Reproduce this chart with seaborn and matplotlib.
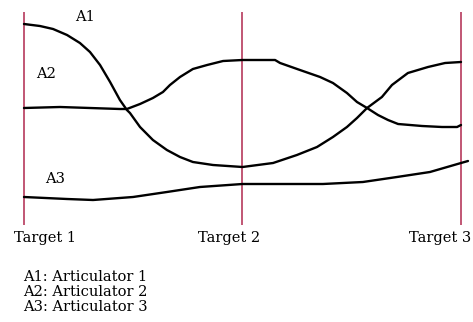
import matplotlib
matplotlib.use("Agg")
import matplotlib.pyplot as plt
import seaborn as sns
import pandas as pd

# time in units of target intervals (Target 1 = 0, Target 2 = 1, Target 3 = 2)
a1_t = [0.0, 0.073, 0.133, 0.197, 0.256, 0.302, 0.348, 0.394, 0.439, 0.471, 0.485,
        0.531, 0.590, 0.654, 0.714, 0.773, 0.865, 1.0, 1.140, 1.249, 1.341, 1.414,
        1.478, 1.524, 1.570, 1.638, 1.684, 1.757, 1.849, 1.927, 2.0]
a1_v = [201, 199, 196, 190, 182, 173, 160, 143, 125, 115, 112,
        98, 85, 75, 68, 63, 60, 58, 62, 70, 78, 88,
        98, 107, 117, 128, 140, 152, 158, 162, 163]

a2_t = [0.0, 0.165, 0.439, 0.471, 0.531, 0.590, 0.636, 0.668, 0.714, 0.773, 0.838,
        0.911, 1.0, 1.149, 1.172, 1.263, 1.355, 1.414, 1.478, 1.524, 1.570, 1.620,
        1.666, 1.712, 1.822, 1.913, 1.982, 2.0]
a2_v = [117, 118, 116, 116, 121, 127, 133, 140, 148, 156, 160,
        164, 165, 165, 162, 155, 148, 142, 132, 123, 117, 110,
        105, 101, 99, 98, 98, 100]

a3_t = [0.0, 0.197, 0.316, 0.499, 0.654, 0.805, 1.0, 1.368, 1.551, 1.707, 1.858, 2.0, 2.032]
a3_v = [28, 26, 25, 28, 33, 38, 41, 41, 43, 48, 53, 62, 64]

series_names = ["A1", "A2", "A3"]
targets = [0, 1, 2]
target_labels = ["Target 1", "Target 2", "Target 3"]
legend_lines = ["A1: Articulator 1", "A2: Articulator 2", "A3: Articulator 3"]

df = pd.concat([
    pd.DataFrame({"t": a1_t, "v": a1_v, "s": "A1"}),
    pd.DataFrame({"t": a2_t, "v": a2_v, "s": "A2"}),
    pd.DataFrame({"t": a3_t, "v": a3_v, "s": "A3"}),
], ignore_index=True)

sns.set_style("white")
plt.rcParams["font.family"] = ["DejaVu Serif"]

fig = plt.figure(figsize=(4.73, 3.22), dpi=100)
ax = fig.add_axes([0, 0, 1, 1])

ax.vlines(targets, 0, 213, color="#b63a5c", linewidth=1.2, zorder=1)

sns.lineplot(data=df, x="t", y="v", hue="s", units="s", estimator=None, sort=False,
             palette={"A1": "black", "A2": "black", "A3": "black"},
             linewidth=1.7, legend=False, ax=ax, zorder=2)
for ln in ax.lines:
    ln.set_solid_joinstyle("round")
    ln.set_solid_capstyle("round")

ax.set_xlim(-0.1098, 2.0549)
ax.set_ylim(-97, 225)
ax.axis("off")

fs = 10.5
# series labels
ax.text(0.279, 208, "A1", fontsize=fs, ha="center", va="center", color="black")
ax.text(0.101, 151, "A2", fontsize=fs, ha="center", va="center", color="black")
ax.text(0.142, 46, "A3", fontsize=fs, ha="center", va="center", color="black")

# target labels
for x, lab in zip([-0.046, 0.796, 1.762], target_labels):
    ax.text(x, -13, lab, fontsize=fs, ha="left", va="center", color="black")

for y, lab in zip([-52, -67, -82], legend_lines):
    ax.text(-0.005, y, lab, fontsize=fs, ha="left", va="center", color="black")

fig.savefig("out.png", dpi=100)
